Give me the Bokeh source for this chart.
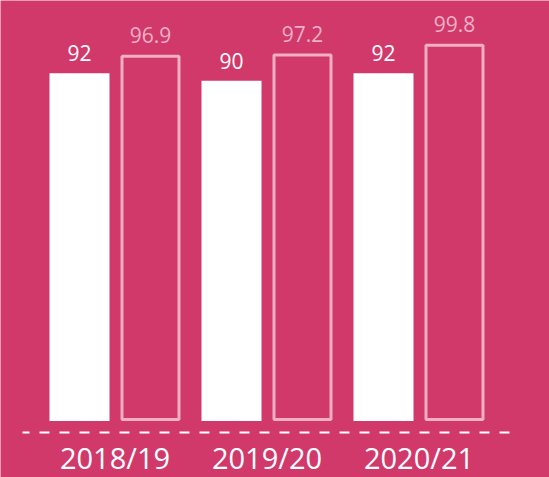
import numpy as np
from bokeh.plotting import figure
from bokeh.models import Range1d, ColumnDataSource
from bokeh.core.properties import value
from bokeh.embed import file_html
from bokeh.resources import INLINE

# ---- data ----
categories = ["2018/19", "2019/20", "2020/21"]
series_a = [92, 90, 92]          # filled white bars
series_b = [96.9, 97.2, 99.8]    # outlined bars
labels_a = ["92", "90", "92"]
labels_b = ["96.9", "97.2", "99.8"]

BG = "#d1396b"
PINK = "#efafc5"
FONT = "Open Sans"

W, H = 549, 477
px_x = 152.0            # pixels per category unit
px_y = 3.78             # pixels per value unit
x0 = -114.5 / px_x
y0 = -56.5 / px_y

p = figure(width=W, height=H, output_backend="svg", toolbar_location=None,
           x_range=Range1d(x0, x0 + W / px_x), y_range=Range1d(y0, y0 + H / px_y),
           min_border=0, min_border_left=0, min_border_right=0,
           min_border_top=0, min_border_bottom=0)
p.background_fill_color = BG
p.border_fill_color = BG
p.outline_line_color = None
p.xgrid.visible = False
p.ygrid.visible = False
p.xaxis.visible = False
p.yaxis.visible = False

x = np.arange(len(categories), dtype=float)
off = 35.5 / px_x
wa = 60 / px_x
wb = 57 / px_x
inset = 1.5 / px_y

src = ColumnDataSource(dict(
    xa=x - off, xb=x + off, xc=x,
    a=series_a, b=series_b,
    la=labels_a, lb=labels_b, cat=categories,
    bb=[inset] * len(x), bt=[v - inset for v in series_b],
))

p.vbar(x="xa", top="a", bottom=0, width=wa, source=src,
       fill_color="white", line_color=None)
p.vbar(x="xb", top="bt", bottom="bb", width=wb, source=src,
       fill_color=None, line_color=PINK, line_width=3)

p.text(x="xa", y="a", text="la", source=src, text_align="center",
       text_baseline="alphabetic", y_offset=-20, text_color="white",
       text_font=value(FONT), text_font_size="21px")
p.text(x="xb", y="b", text="lb", source=src, text_align="center",
       text_baseline="alphabetic", y_offset=-20, text_color=PINK,
       text_font=value(FONT), text_font_size="21px")

# dashed baseline
p.line(x=[x[0] - 92.5 / px_x, x[-1] + 95.5 / px_x], y=[-11.5 / px_y] * 2,
       line_color="white", line_width=2, line_dash="10 10", line_dash_offset=3)

p.text(x="xc", y=0, text="cat", source=src, text_align="center",
       text_baseline="alphabetic", y_offset=36, text_color="white",
       text_font=value(FONT), text_font_size="29px")

html = file_html(p, INLINE)
html = html.replace("<body>", '<body style="background-color:%s;">' % BG, 1)
open("out.html", "w").write(html)
